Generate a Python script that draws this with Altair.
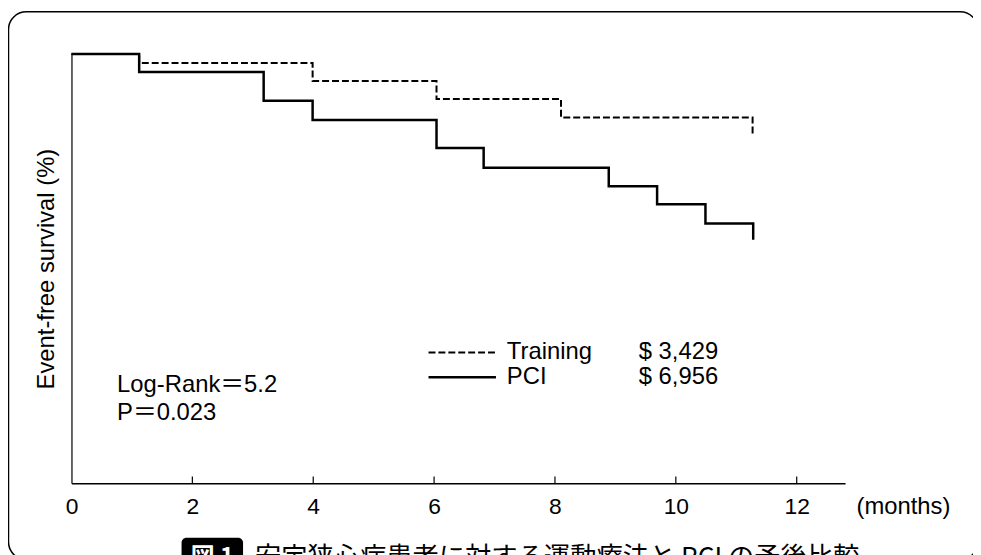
import altair as alt
import pandas as pd

# ---- data ----
pci_months = [0, 1.12, 3.18, 3.99, 6.04, 6.82, 8.89, 9.69, 10.49, 11.28]
pci_survival = [100, 95.8, 89.1, 84.6, 78.1, 73.5, 69.2, 65.0, 60.5, 56.7]
training_months = [0, 1.12, 3.99, 6.04, 8.10, 11.27]
training_survival = [100, 97.9, 93.7, 89.5, 85.2, 81.0]
x_tick_labels = [0, 2, 4, 6, 8, 10, 12]
tick_marks = [2, 4, 6, 8, 10, 12]
series_names = ["Training", "PCI"]
series_costs = ["$ 3,429", "$ 6,956"]
stats_lines = ["Log-Rank＝5.2", "P＝0.023"]
fig_label = "図 1"
caption = "安定狭心症患者に対する運動療法と PCI の予後比較"

FONT = "Liberation Sans, Noto Sans CJK JP, sans-serif"
FS = 23
W, H = 780, 433

pci_df = pd.DataFrame({"month": pci_months, "survival": pci_survival})
tr_df = pd.DataFrame({"month": training_months, "survival": training_survival})
tick_df = pd.DataFrame({"month": tick_marks})
one = pd.DataFrame({"k": [0]})

x_enc = alt.X(
    "month:Q",
    scale=alt.Scale(domain=[0, 12.8], nice=False, zero=False),
    axis=alt.Axis(
        values=x_tick_labels, ticks=False, grid=False, labelFlush=False,
        domainColor="black", domainWidth=1.5,
        labelFont=FONT, labelFontSize=FS, labelColor="black", labelPadding=12,
        title="(months)", titleFont=FONT, titleFontSize=24, titleFontWeight="normal",
        titleColor="black", titleX=791, titleY=23, titleAlign="left",
        titleBaseline="middle", titleAnchor="start",
    ),
)
y_enc = alt.Y(
    "survival:Q",
    scale=alt.Scale(domain=[0, 100], nice=False),
    axis=alt.Axis(
        labels=False, ticks=False, grid=False, domainColor="black", domainWidth=1.2,
        title="Event-free survival (%)", titleFont=FONT, titleFontSize=24,
        titleFontWeight="normal", titleColor="black", titlePadding=13,
    ),
)

pci_line = alt.Chart(pci_df).mark_line(
    interpolate="step-after", color="black", strokeWidth=2.5
).encode(x=x_enc, y=y_enc)

tr_line = alt.Chart(tr_df).mark_line(
    interpolate="step-after", color="black", strokeWidth=2, strokeDash=[7, 3]
).encode(x=x_enc, y=y_enc)

ticks = alt.Chart(tick_df).mark_rule(color="black", strokeWidth=1.2).encode(
    x=x_enc, y=alt.value(H - 7), y2=alt.value(H)
)

frame = alt.Chart(one).mark_rect(
    fillOpacity=0, stroke="black", strokeWidth=1.5, cornerRadius=18
).encode(x=alt.value(-63.5), x2=alt.value(914), y=alt.value(-42.5), y2=alt.value(510))

# legend
leg_dash = alt.Chart(one).mark_rule(color="black", strokeWidth=2, strokeDash=[7, 3]).encode(
    x=alt.value(360), x2=alt.value(428), y=alt.value(301)
)
leg_solid = alt.Chart(one).mark_rule(color="black", strokeWidth=2.5).encode(
    x=alt.value(360), x2=alt.value(428), y=alt.value(326)
)
text_layers = []
for i, (name, cost) in enumerate(zip(series_names, series_costs)):
    yy = 301 + 25 * i
    text_layers.append(
        alt.Chart(pd.DataFrame({"t": [name]})).mark_text(
            font=FONT, fontSize=24, color="black", align="left", baseline="middle"
        ).encode(text="t:N", x=alt.value(439), y=alt.value(yy))
    )
    text_layers.append(
        alt.Chart(pd.DataFrame({"t": [cost]})).mark_text(
            font=FONT, fontSize=24, color="black", align="left", baseline="middle"
        ).encode(text="t:N", x=alt.value(572), y=alt.value(yy))
    )
for i, s in enumerate(stats_lines):
    text_layers.append(
        alt.Chart(pd.DataFrame({"t": [s]})).mark_text(
            font=FONT, fontSize=24, color="black", align="left", baseline="middle"
        ).encode(text="t:N", x=alt.value(46), y=alt.value(334 + 28 * i))
    )

# caption (cut off at the bottom of the picture, as in the reference)
cap_box = alt.Chart(one).mark_rect(color="black", cornerRadius=5).encode(
    x=alt.value(111), x2=alt.value(173), y=alt.value(488), y2=alt.value(530)
)
cap_fig = alt.Chart(pd.DataFrame({"t": [fig_label]})).mark_text(
    font="Noto Sans CJK JP", fontSize=24, fontWeight="bold", color="white",
    align="center", baseline="middle"
).encode(text="t:N", x=alt.value(142), y=alt.value(508))
cap_text = alt.Chart(pd.DataFrame({"t": [caption]})).mark_text(
    font="Noto Sans CJK JP", fontSize=26.5, color="black", align="left", baseline="middle"
).encode(text="t:N", x=alt.value(185), y=alt.value(508))

chart = alt.layer(
    frame, tr_line, pci_line, ticks, leg_dash, leg_solid, *text_layers,
    cap_box, cap_fig, cap_text
).properties(
    width=W, height=H,
    padding={"left": 64, "top": 44, "right": 129, "bottom": 70},
    autosize=alt.AutoSizeParams(type="none"),
    background="white",
    view=alt.ViewBackground(stroke="transparent", strokeWidth=0, strokeOpacity=0),
).configure_view(stroke="transparent", strokeWidth=0, strokeOpacity=0)

chart.save("out.html", embed_options={"renderer": "svg", "actions": False})
